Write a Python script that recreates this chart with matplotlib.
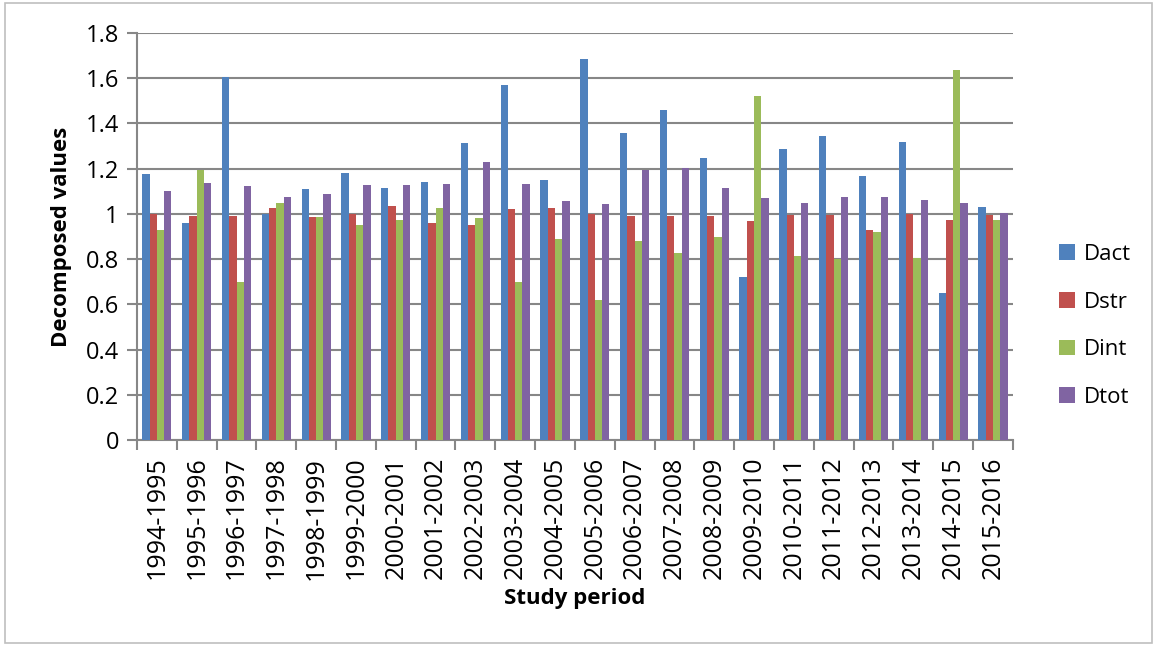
import numpy as np
import matplotlib.pyplot as plt
from matplotlib.patches import Rectangle

plt.rcParams['font.family'] = ['Open Sans', 'DejaVu Sans']

periods = ['1994-1995', '1995-1996', '1996-1997', '1997-1998', '1998-1999',
           '1999-2000', '2000-2001', '2001-2002', '2002-2003', '2003-2004',
           '2004-2005', '2005-2006', '2006-2007', '2007-2008', '2008-2009',
           '2009-2010', '2010-2011', '2011-2012', '2012-2013', '2013-2014',
           '2014-2015', '2015-2016']

dact = [1.178, 0.958, 1.606, 0.998, 1.111, 1.182, 1.116, 1.141, 1.315, 1.570, 1.148,
        1.684, 1.359, 1.458, 1.249, 0.722, 1.289, 1.345, 1.169, 1.317, 0.652, 1.032]
dstr = [1.000, 0.989, 0.990, 1.027, 0.986, 1.000, 1.035, 0.961, 0.952, 1.023, 1.027,
        1.000, 0.990, 0.990, 0.989, 0.970, 0.993, 0.995, 0.930, 1.000, 0.974, 0.993]
dint = [0.928, 1.194, 0.700, 1.046, 0.986, 0.949, 0.974, 1.027, 0.980, 0.700, 0.889,
        0.617, 0.881, 0.827, 0.899, 1.523, 0.813, 0.800, 0.922, 0.803, 1.638, 0.974]
dtot = [1.103, 1.138, 1.123, 1.076, 1.089, 1.129, 1.129, 1.131, 1.231, 1.131, 1.055,
        1.045, 1.193, 1.201, 1.116, 1.072, 1.046, 1.076, 1.073, 1.063, 1.046, 1.005]

series = [('Dact', dact, '#4F81BD'), ('Dstr', dstr, '#C0504D'),
          ('Dint', dint, '#9BBB59'), ('Dtot', dtot, '#8064A2')]

fig = plt.figure(figsize=(11.57, 6.46), dpi=100)
ax = fig.add_axes([0.1184, 0.3189, 0.757, 0.630])

x = np.arange(len(periods))
w = 0.183
for i, (name, vals, col) in enumerate(series):
    ax.bar(x + (i - 1.5) * w, vals, width=w, color=col, label=name, zorder=3)

ax.set_xlim(-0.5, len(periods) - 0.5)
ax.set_ylim(0, 1.8)
ax.set_yticks(np.arange(0, 1.81, 0.2))
ax.set_yticklabels(['0', '0.2', '0.4', '0.6', '0.8', '1', '1.2', '1.4', '1.6', '1.8'])
ax.yaxis.grid(True, color='#878787', linewidth=1.5, zorder=0)

ax.set_xticks(x)
ax.set_xticklabels(periods, rotation=90)
ax.set_xticks(np.arange(-0.5, len(periods), 1), minor=True)
ax.tick_params(axis='x', which='major', length=0, labelsize=18, pad=12)
ax.tick_params(axis='x', which='minor', length=7, width=1.5, color='#878787')
ax.tick_params(axis='y', length=7, width=1.5, color='#878787', labelsize=17, pad=6)

for s in ['top', 'right']:
    ax.spines[s].set_visible(False)
for s in ['left', 'bottom']:
    ax.spines[s].set_color('#878787')
    ax.spines[s].set_linewidth(1.5)

ax.set_ylabel('Decomposed values', fontsize=16, fontweight='bold', labelpad=10)
ax.set_xlabel('Study period', fontsize=16, fontweight='bold', labelpad=6)

ax.legend(loc='center left', bbox_to_anchor=(1.03, 0.28), frameon=False,
          fontsize=16, handlelength=0.7, handleheight=0.7, handletextpad=0.4,
          labelspacing=1.2)

# thin frame round the whole chart
fig.patches.append(Rectangle((0.004, 0.004), 0.992, 0.991, transform=fig.transFigure,
                             fill=False, edgecolor='#BFBFBF', linewidth=1.2))

fig.savefig('out.png', dpi=100)
